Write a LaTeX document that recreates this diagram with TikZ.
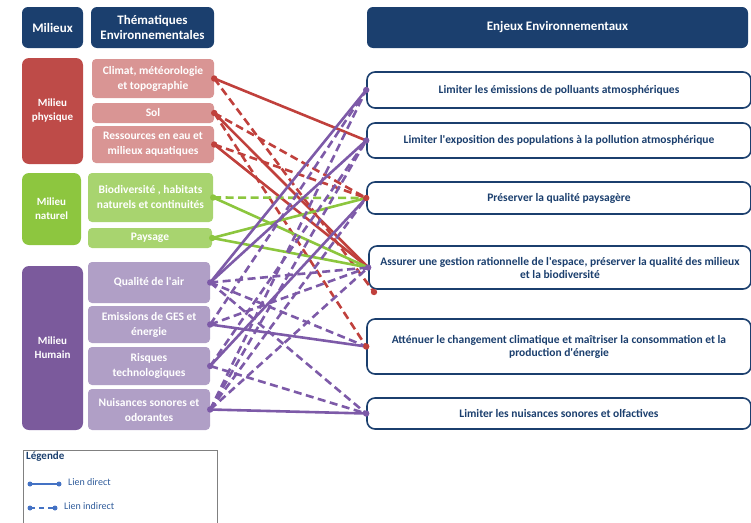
\documentclass[tikz,border=0pt]{standalone}
\usepackage{fontspec}
\setmainfont{Carlito}
\definecolor{navy}{HTML}{1B3F6E}
\definecolor{redM}{HTML}{BE4B48}
\definecolor{redT}{HTML}{D99594}
\definecolor{greenM}{HTML}{8DC63F}
\definecolor{greenT}{HTML}{A8D46F}
\definecolor{purM}{HTML}{7B5A9C}
\definecolor{purT}{HTML}{B09FC6}
\definecolor{redL}{HTML}{C0403C}
\definecolor{greenL}{HTML}{8CC63E}
\definecolor{purL}{HTML}{7D5AA8}
\definecolor{legblue}{HTML}{4472C4}
\definecolor{legtext}{HTML}{2F5B9A}
\newcommand\q{\textquotesingle}
\begin{document}
\begin{tikzpicture}[x=1pt,y=-1pt,
  hdr/.style={rectangle, rounded corners=6pt, fill=navy, text=white, font=\fontsize{13}{15}\selectfont\bfseries, align=center, inner sep=0pt},
  mil/.style={rectangle, rounded corners=7pt, text=white, font=\fontsize{11}{14}\selectfont\bfseries, align=center, inner sep=0pt},
  thm/.style={rectangle, rounded corners=4pt, text=white, font=\fontsize{11.5}{15}\selectfont\bfseries, align=center, inner sep=0pt},
  enj/.style={rectangle, rounded corners=8pt, draw=navy, line width=1.6pt, fill=white, text=navy, font=\fontsize{11.5}{13}\selectfont\bfseries, align=center, inner sep=0pt},
  lnk/.style={line width=2.6pt},
  ind/.style={line width=2.6pt, dash pattern=on 8pt off 4.5pt},
  legbox/.style={rectangle, draw=black!50, line width=1.4pt, inner sep=0pt, anchor=north west}
]
\useasboundingbox (0,0) rectangle (751,522);
% headers
\node[hdr, minimum width=61pt, minimum height=41pt] (hMil) at (52.5,27.5) {Milieux};
\node[hdr, minimum width=123pt, minimum height=41pt] (hThem) at (152.5,27.5) {Thématiques\\Environnementales};
\node[hdr, minimum width=381pt, minimum height=41pt] (hEnj) at (557.5,27.5) {Enjeux Environnementaux};
% milieux
\node[mil, fill=redM, minimum width=61pt, minimum height=106pt] (mPhy) at (52.5,111) {Milieu\\physique};
\node[mil, fill=greenM, minimum width=59pt, minimum height=72pt] (mNat) at (51.5,209) {Milieu\\naturel};
\node[mil, fill=purM, minimum width=61pt, minimum height=164pt] (mHum) at (52.5,348) {Milieu\\Humain};
% thematiques
\node[thm, fill=redT, minimum width=122pt, minimum height=39pt] (tClim) at (153,78.5) {Climat, météorologie\\et topographie};
\node[thm, fill=redT, minimum width=122pt, minimum height=20pt] (tSol) at (153,113) {Sol};
\node[thm, fill=redT, minimum width=122pt, minimum height=37pt] (tRes) at (153,144.5) {Ressources en eau et\\milieux aquatiques};
\node[thm, fill=greenT, minimum width=125pt, minimum height=49pt] (tBio) at (150.5,197.5) {Biodiversité , habitats\\naturels et continuités};
\node[thm, fill=greenT, minimum width=124pt, minimum height=20pt] (tPay) at (150,238) {Paysage};
\node[thm, fill=purT, minimum width=122pt, minimum height=41pt] (tQA) at (149,282.5) {Qualité de l\q air};
\node[thm, fill=purT, minimum width=122pt, minimum height=37pt] (tGES) at (149,324.5) {Emissions de GES et\\énergie};
\node[thm, fill=purT, minimum width=122pt, minimum height=38pt] (tRis) at (149,366) {Risques\\technologiques};
\node[thm, fill=purT, minimum width=122pt, minimum height=41pt] (tNui) at (149,409.5) {Nuisances sonores et\\odorantes};
% enjeux
\node[enj, minimum width=384pt, minimum height=36pt] (e1) at (559,90) {Limiter les émissions de polluants atmosphériques};
\node[enj, minimum width=384pt, minimum height=35pt] (e2) at (559,140.5) {Limiter l\q exposition des populations à la pollution atmosphérique};
\node[enj, minimum width=384pt, minimum height=32pt] (e3) at (559,198) {Préserver la qualité paysagère};
\node[enj, minimum width=382pt, minimum height=43pt] (e4) at (560,267.5) {Assurer une gestion rationnelle de l\q espace, préserver la qualité des milieux\\et la biodiversité};
\node[enj, minimum width=384pt, minimum height=55pt] (e5) at (559,346.5) {Atténuer le changement climatique et maîtriser la consommation et la\\production d\q énergie};
\node[enj, minimum width=384pt, minimum height=31pt] (e6) at (559,413.5) {Limiter les nuisances sonores et olfactives};
\coordinate (cx) at (374,292);
% red links
\foreach \a/\b in {tClim/e2,tSol/e4,tRes/e4} \draw[lnk,redL] (\a.east) -- (\b.west);
\foreach \a/\b in {tSol/e3,tSol/e5,tRes/e3} \draw[ind,redL] (\a.east) -- (\b.west);
\draw[ind,redL] (tClim.east) -- (cx);
% green links
\foreach \a/\b in {tBio/e4,tPay/e3,tPay/e4} \draw[lnk,greenL] (\a.east) -- (\b.west);
\draw[ind,greenL] (tBio.east) -- (e3.west);
% purple links
\foreach \a/\b in {tQA/e1,tQA/e2,tGES/e5,tRis/e3,tNui/e6} \draw[lnk,purL] (\a.east) -- (\b.west);
\foreach \a/\b in {tQA/e4,tQA/e5,tQA/e6,tGES/e1,tGES/e4,tRis/e2,tRis/e6,tNui/e1,tNui/e2,tNui/e3,tNui/e4} \draw[ind,purL] (\a.east) -- (\b.west);
% dots
\foreach \a in {tClim,tSol,tRes} \fill[redL] (\a.east) circle (3.2);
\foreach \a in {tBio,tPay} \fill[greenL] (\a.east) circle (3.2);
\foreach \a in {tQA,tGES,tRis,tNui} \fill[purL] (\a.east) circle (3.2);
\foreach \a in {e1,e2,e4,e6} \fill[purL] (\a.west) circle (3.2);
\foreach \a in {e3,e5} \fill[redL] (\a.west) circle (3.2);
\fill[redL] (cx) circle (3.2);
% legend
\node[legbox, minimum width=194pt, minimum height=85pt] (leg) at (23,450) {};
\node[anchor=north west, inner sep=0pt, text=navy, font=\fontsize{11}{13}\selectfont\bfseries] (legT) at (26,452) {Légende};
\coordinate (l1a) at (30,484);
\coordinate (l1b) at (59,484);
\coordinate (l2a) at (30,508);
\coordinate (l2b) at (55,508);
\draw[legblue, line width=1.5pt] (l1a) -- (l1b);
\draw[legblue, line width=1.5pt, dash pattern=on 5pt off 4pt] (l2a) -- (l2b);
\foreach \c in {l1a,l1b,l2a,l2b} \fill[legblue] (\c) circle (2.5);
\node[anchor=west, inner sep=0pt, text=legtext, font=\fontsize{10}{12}\selectfont] (legD) at (68,482) {Lien direct};
\node[anchor=west, inner sep=0pt, text=legtext, font=\fontsize{10}{12}\selectfont] (legI) at (64,506) {Lien indirect};
\end{tikzpicture}
\end{document}
